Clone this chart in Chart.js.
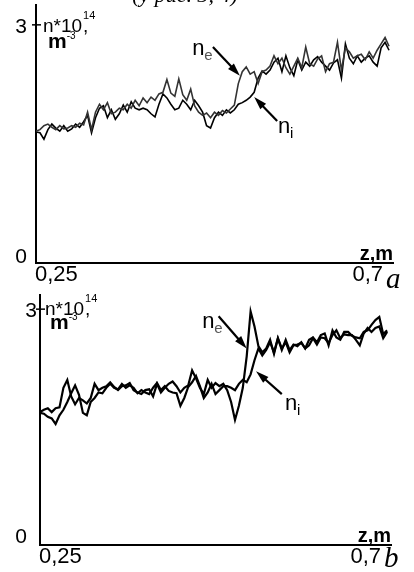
<!DOCTYPE html>
<html>
<head>
<meta charset="utf-8">
<script src="https://cdn.jsdelivr.net/npm/chart.js@4/dist/chart.umd.min.js"></script>
<style>
    html, body { margin: 0; padding: 0; background: #fff; width: 414px; height: 572px; overflow: hidden; }
    .panel { position: absolute; left: 0; }
    #panel-a { top: 0; }
    #panel-b { top: 285px; }
</style>
</head>
<body>
<div class="panel" id="panel-a"><canvas id="chart-a" width="414" height="290"></canvas></div>
<div class="panel" id="panel-b"><canvas id="chart-b" width="414" height="287"></canvas></div>
<script>
// z positions (m), sampling grid of the probe traces
const zGrid = Array.from({ length: 90 }, (_, i) => Math.round((0.25 + i * 0.005) * 1000) / 1000);

const xTicks = [0.25, 0.7];
const xTickLabels = ['0,25', '0,7'];
const yTicks = [0, 3];
const yTickLabels = ['0', '3'];

// panel a, n * 10^14 m^-3
const neA = [1.66, 1.68, 1.73, 1.75, 1.71, 1.68, 1.73, 1.69, 1.70, 1.73,
    1.71, 1.76, 1.74, 1.90, 1.68, 1.90, 2.00, 1.93, 2.02, 1.88,
    1.90, 1.95, 1.93, 2.00, 1.95, 2.05, 1.98, 2.08, 2.02, 2.09,
    2.05, 2.13, 2.15, 2.31, 2.14, 2.10, 2.32, 2.12, 2.05, 2.19,
    1.98, 1.90, 1.86, 1.89, 1.83, 1.90, 1.86, 1.92, 1.89, 1.94,
    1.99, 2.26, 2.41, 2.47, 2.38, 2.41, 2.26, 2.41, 2.43, 2.48,
    2.61, 2.51, 2.58, 2.46, 2.38, 2.48, 2.58, 2.46, 2.72, 2.51,
    2.48, 2.57, 2.61, 2.41, 2.51, 2.53, 2.78, 2.43, 2.71, 2.66,
    2.58, 2.61, 2.63, 2.56, 2.66, 2.58, 2.68, 2.76, 2.84, 2.73];
const niA = [1.65, 1.64, 1.56, 1.68, 1.75, 1.70, 1.66, 1.73, 1.66, 1.69,
    1.75, 1.71, 1.78, 1.86, 1.64, 1.83, 1.95, 1.98, 1.83, 1.93,
    1.81, 1.88, 1.99, 1.90, 2.03, 1.95, 1.93, 1.95, 1.93, 1.88,
    1.84, 2.00, 2.13, 2.08, 2.00, 1.93, 1.95, 2.05, 2.00, 1.93,
    2.05, 1.98, 1.90, 1.73, 1.70, 1.83, 1.90, 1.86, 1.93, 1.89,
    1.93, 2.00, 2.02, 2.05, 2.09, 2.15, 2.33, 2.42, 2.38, 2.43,
    2.53, 2.58, 2.41, 2.61, 2.46, 2.36, 2.56, 2.43, 2.53, 2.48,
    2.56, 2.60, 2.53, 2.48, 2.43, 2.52, 2.56, 2.33, 2.76, 2.58,
    2.51, 2.61, 2.53, 2.58, 2.61, 2.53, 2.48, 2.71, 2.78, 2.68];

// panel b
const neB = [1.69, 1.72, 1.74, 1.69, 1.74, 1.75, 2.00, 2.10, 1.89, 1.79,
    1.87, 1.84, 1.80, 1.87, 2.05, 1.97, 2.00, 2.02, 2.07, 2.01,
    1.97, 2.02, 2.03, 2.06, 1.97, 1.94, 1.92, 1.97, 1.98, 1.89,
    2.05, 1.94, 2.00, 2.05, 2.08, 2.02, 1.94, 2.00, 2.03, 2.22,
    2.12, 2.00, 1.92, 2.10, 2.00, 2.06, 2.02, 2.05, 1.97, 1.82,
    1.59, 1.77, 2.00, 2.40, 2.97, 2.78, 2.53, 2.45, 2.50, 2.61,
    2.43, 2.63, 2.48, 2.61, 2.48, 2.55, 2.53, 2.58, 2.50, 2.61,
    2.64, 2.58, 2.67, 2.69, 2.54, 2.73, 2.64, 2.61, 2.71, 2.71,
    2.66, 2.64, 2.63, 2.71, 2.73, 2.80, 2.86, 2.90, 2.68, 2.73];
const niB = [1.68, 1.67, 1.63, 1.61, 1.54, 1.65, 1.72, 1.82, 1.93, 2.03,
    1.91, 1.68, 1.65, 1.82, 1.87, 1.94, 1.93, 2.00, 2.05, 2.00,
    1.98, 2.05, 2.00, 2.03, 2.00, 1.93, 1.97, 1.94, 1.92, 2.00,
    2.06, 1.97, 2.02, 1.96, 1.94, 1.93, 1.77, 1.87, 2.01, 2.07,
    2.15, 2.02, 1.87, 1.94, 2.05, 1.92, 1.97, 2.02, 2.02, 2.00,
    1.97, 2.05, 2.10, 2.07, 2.17, 2.35, 2.50, 2.41, 2.48, 2.58,
    2.45, 2.63, 2.50, 2.58, 2.45, 2.54, 2.55, 2.57, 2.50, 2.54,
    2.63, 2.55, 2.64, 2.63, 2.57, 2.67, 2.73, 2.63, 2.68, 2.67,
    2.67, 2.61, 2.54, 2.69, 2.76, 2.71, 2.76, 2.78, 2.63, 2.71];

const SANS = '"Liberation Sans", Arial, sans-serif';
const SERIF = '"Liberation Serif", "Times New Roman", serif';

function txt(ctx, s, x, y, font, align, color) {
    ctx.save();
    ctx.font = font;
    ctx.fillStyle = color || '#000';
    ctx.textAlign = align || 'left';
    ctx.textBaseline = 'alphabetic';
    ctx.fillText(s, x, y);
    ctx.restore();
}

function arrow(ctx, x1, y1, x2, y2) {
    const ang = Math.atan2(y2 - y1, x2 - x1);
    const len = 13, half = 4;
    ctx.save();
    ctx.strokeStyle = '#000';
    ctx.fillStyle = '#000';
    ctx.lineWidth = 2.2;
    ctx.beginPath();
    ctx.moveTo(x1, y1);
    ctx.lineTo(x2 - Math.cos(ang) * 6, y2 - Math.sin(ang) * 6);
    ctx.stroke();
    ctx.beginPath();
    ctx.moveTo(x2, y2);
    ctx.lineTo(x2 - Math.cos(ang) * len - Math.sin(ang) * half, y2 - Math.sin(ang) * len + Math.cos(ang) * half);
    ctx.lineTo(x2 - Math.cos(ang) * len + Math.sin(ang) * half, y2 - Math.sin(ang) * len - Math.cos(ang) * half);
    ctx.closePath();
    ctx.fill();
    ctx.restore();
}

// draws tick labels, units, n_e / n_i labels and arrows
const figurePlugin = {
    id: 'figureText',
    afterDraw(chart, args, o) {
        const ctx = chart.ctx;
        const xs = chart.scales.x, ys = chart.scales.y;
        const left = chart.chartArea.left, bottom = chart.chartArea.bottom;
        const px = z => xs.getPixelForValue(z);
        const py = v => ys.getPixelForValue(v);

        // caption of the figure above, cut off by the page edge
        if (o.caption) txt(ctx, '(у рис. 3, 4)', 185, 2, 'italic 22px ' + SERIF, 'center');

        // y ticks
        const y3 = py(yTicks[1]);
        ctx.save();
        ctx.strokeStyle = '#000';
        ctx.lineWidth = 1.5;
        ctx.beginPath();
        ctx.moveTo(left - 4, y3);
        ctx.lineTo(left + 5, y3);
        ctx.stroke();
        ctx.restore();
        txt(ctx, yTickLabels[1], left + o.threeDx, y3 + 8, '21px ' + SANS, 'right');
        txt(ctx, yTickLabels[0], left + o.zeroDx, py(yTicks[0]) + o.zeroDy, '21px ' + SANS, 'right');

        // unit label  n*10^14, m^-3
        const ux = left + o.unitDx;
        txt(ctx, 'n*10', ux, y3 + o.unitDy1, '19px ' + SANS);
        ctx.font = '19px ' + SANS;
        const w = ctx.measureText('n*10').width;
        txt(ctx, '14', ux + w + 1, y3 + o.unitDy1 - 13, '11px ' + SANS);
        txt(ctx, ',', ux + w + 1, y3 + o.unitDy1, '19px ' + SANS);
        txt(ctx, 'm', ux + 5, y3 + o.unitDy2, 'bold 21px ' + SANS);
        ctx.font = 'bold 21px ' + SANS;
        const wm = ctx.measureText('m').width;
        txt(ctx, '-3', ux + 5 + wm, y3 + o.unitDy2 - 9, '10px ' + SANS);

        // x axis
        txt(ctx, 'z,m', px(xTicks[1]), bottom - 3, 'bold 20px ' + SANS, 'right');
        txt(ctx, xTickLabels[0], px(xTicks[0]) - 1, bottom + 18, '22px ' + SANS, 'left');
        txt(ctx, xTickLabels[1], px(xTicks[1]) - 10, bottom + 18, '22px ' + SANS, 'right');
        txt(ctx, o.letter, px(xTicks[1]) - 7, bottom + o.letterDy, 'italic 29px ' + SERIF, 'left');

        // n_e / n_i
        const ne = o.ne, ni = o.ni;
        txt(ctx, 'n', px(ne.text[0]), py(ne.text[1]), '22px ' + SANS);
        txt(ctx, 'e', px(ne.text[0]) + 12, py(ne.text[1]) + 5, '15px ' + SANS, 'left', '#555');
        arrow(ctx, px(ne.tail[0]), py(ne.tail[1]), px(ne.tip[0]), py(ne.tip[1]));
        txt(ctx, 'n', px(ni.text[0]), py(ni.text[1]), '22px ' + SANS);
        txt(ctx, 'i', px(ni.text[0]) + 12, py(ni.text[1]) + 5, '15px ' + SANS);
        arrow(ctx, px(ni.tail[0]), py(ni.tail[1]), px(ni.tip[0]), py(ni.tip[1]));
    }
};

function makeChart(id, ne, ni, yMax, pad, lineW, neColor, opts) {
    return new Chart(document.getElementById(id), {
        type: 'line',
        data: {
            labels: zGrid,
            datasets: [
                { label: 'n_e', data: ne, borderColor: neColor, borderWidth: lineW, pointRadius: 0, tension: 0, fill: false },
                { label: 'n_i', data: ni, borderColor: '#000', borderWidth: lineW, pointRadius: 0, tension: 0, fill: false }
            ]
        },
        options: {
            responsive: false,
            animation: false,
            layout: { padding: pad },
            plugins: { legend: { display: false }, tooltip: { enabled: false }, figureText: opts },
            scales: {
                x: {
                    type: 'linear', min: 0.25, max: 0.7,
                    grid: { display: false, drawTicks: false },
                    border: { display: true, color: '#000', width: 2 },
                    ticks: { display: false }
                },
                y: {
                    min: 0, max: yMax,
                    grid: { display: false, drawTicks: false },
                    border: { display: true, color: '#000', width: 2 },
                    ticks: { display: false }
                }
            }
        },
        plugins: [figurePlugin]
    });
}

makeChart('chart-a', neA, niA, 3.25, { left: 36, right: 21, top: 5, bottom: 27 }, 1.6, '#333', {
    caption: true, letter: 'a', letterDy: 25,
    threeDx: -9, zeroDx: -9, zeroDy: 0,
    unitDx: 7, unitDy1: 7, unitDy2: 23,
    ne: { text: [0.447, 2.62], tail: [0.473, 2.72], tip: [0.507, 2.36] },
    ni: { text: [0.555, 1.64], tail: [0.554, 1.79], tip: [0.525, 2.09] }
});

makeChart('chart-b', neB, niB, 3.18, { left: 40, right: 23, top: 10, bottom: 27 }, 2.2, '#000', {
    caption: false, letter: 'b', letterDy: 22,
    threeDx: -3, zeroDx: -13, zeroDy: -2,
    unitDx: 5, unitDy1: 6, unitDy2: 20,
    ne: { text: [0.458, 2.76], tail: [0.479, 2.91], tip: [0.515, 2.50] },
    ni: { text: [0.564, 1.72], tail: [0.560, 1.92], tip: [0.527, 2.21] }
});
</script>
</body>
</html>
